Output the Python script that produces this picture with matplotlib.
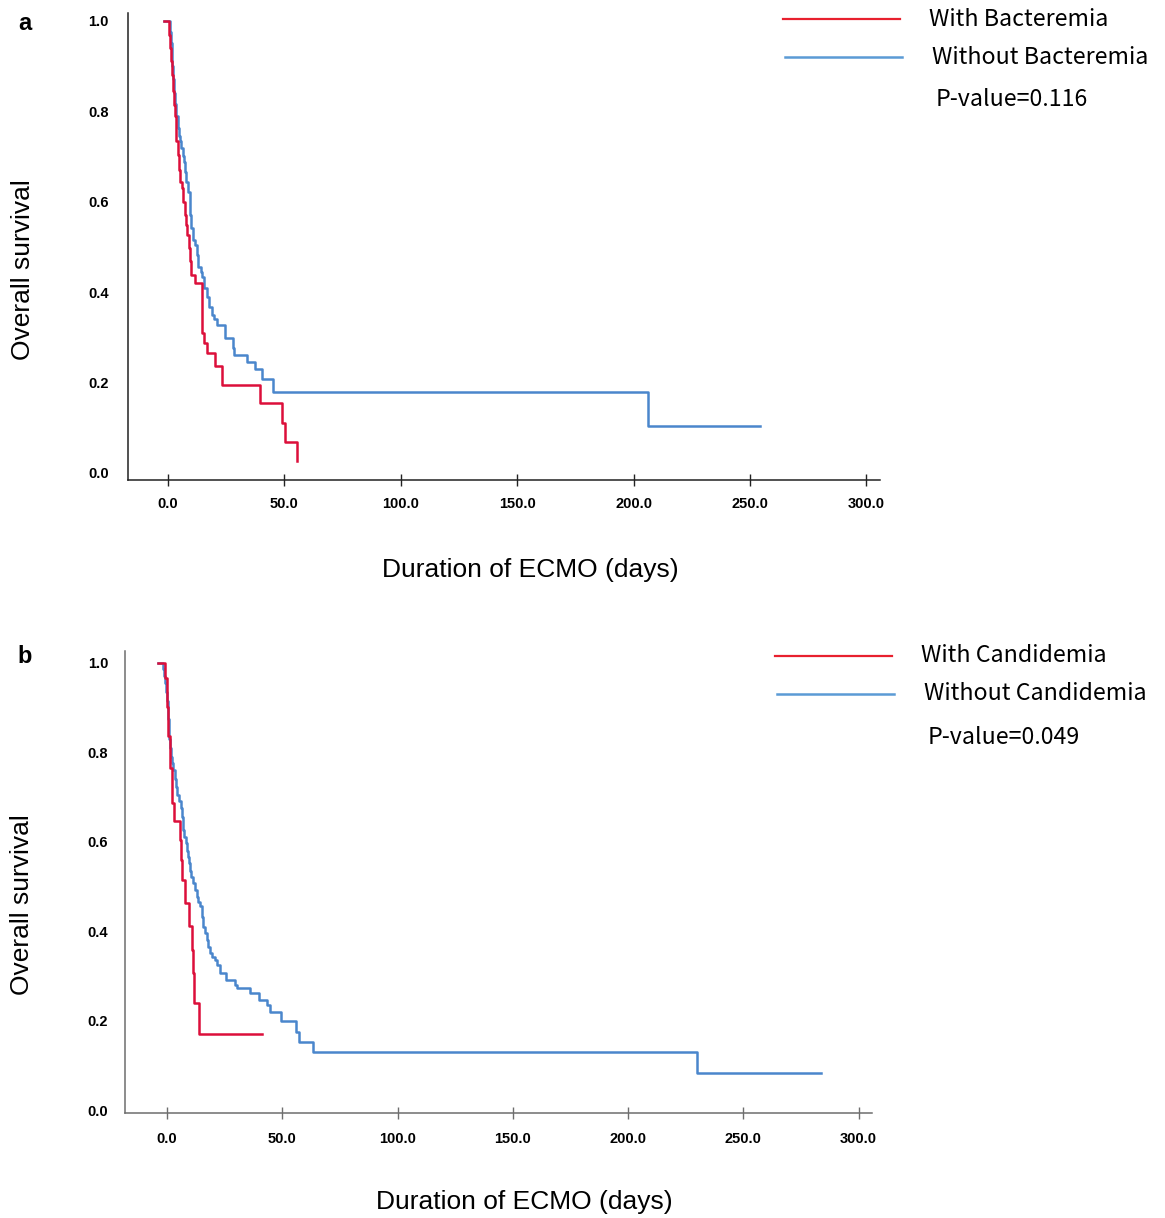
import matplotlib
matplotlib.use("Agg")
import matplotlib.pyplot as plt

# Kaplan-Meier curves: (time, survival after the step)
bact_time = [-1.5, 0.6, 1.2, 1.6, 2.0, 2.4, 2.8, 3.1, 3.5, 3.8, 4.5, 5.0, 5.5, 6.2, 6.8,
             7.4, 8.0, 8.5, 9.2, 9.7, 10.2, 11.7, 14.9, 15.6, 16.8, 20.4, 23.3, 39.7,
             49.3, 50.4, 55.5]
bact_surv = [1.0, 0.968, 0.939, 0.910, 0.880, 0.845, 0.814, 0.790, 0.769, 0.735, 0.703,
             0.670, 0.644, 0.629, 0.600, 0.570, 0.548, 0.526, 0.497, 0.468, 0.438, 0.419,
             0.309, 0.287, 0.266, 0.237, 0.195, 0.154, 0.110, 0.068, 0.027]

nobact_time = [-1.5, 0.9, 1.3, 1.7, 2.1, 2.5, 2.9, 3.3, 3.8, 4.3, 4.8, 5.4, 5.9, 6.7, 7.1,
               7.6, 8.1, 8.8, 9.4, 9.8, 10.2, 11.0, 11.9, 12.5, 13.2, 14.2, 14.7, 15.7,
               16.8, 17.9, 19.0, 20.0, 21.1, 24.7, 28.0, 28.7, 34.0, 37.6, 40.4, 45.4,
               206.0, 254.5]
nobact_surv = [1.0, 0.975, 0.950, 0.925, 0.900, 0.870, 0.840, 0.815, 0.790, 0.762, 0.745,
               0.733, 0.718, 0.700, 0.688, 0.665, 0.644, 0.622, 0.600, 0.570, 0.541, 0.515,
               0.504, 0.482, 0.456, 0.445, 0.434, 0.408, 0.390, 0.368, 0.349, 0.340, 0.327,
               0.298, 0.276, 0.261, 0.246, 0.229, 0.207, 0.180, 0.104, 0.104]

cand_time = [-3.7, -0.8, -0.1, 0.6, 1.3, 2.3, 3.2, 5.7, 6.1, 6.4, 7.8, 9.7, 10.7, 11.2,
             11.8, 14.0, 41.4]
cand_surv = [1.0, 0.965, 0.900, 0.835, 0.764, 0.686, 0.646, 0.604, 0.559, 0.514, 0.463,
             0.411, 0.358, 0.306, 0.239, 0.171, 0.171]

nocand_time = [-3.7, -1.6, -1.2, -0.8, -0.4, 0.0, 0.3, 0.6, 0.9, 1.1, 1.3, 1.7, 2.1, 2.8,
               3.3, 3.9, 4.5, 5.4, 5.9, 6.4, 6.8, 7.1, 7.6, 8.1, 8.6, 9.2, 9.6, 10.0,
               10.6, 11.2, 12.0, 12.9, 13.6, 14.4, 15.1, 15.8, 16.5, 17.3, 18.0, 18.7,
               19.4, 20.9, 21.6, 23.0, 25.6, 29.5, 30.5, 36.0, 40.1, 43.5, 44.7, 49.5,
               55.9, 57.3, 63.2, 230.0, 283.6]
nocand_surv = [1.0, 0.985, 0.970, 0.955, 0.935, 0.915, 0.895, 0.875, 0.850, 0.830, 0.810,
               0.790, 0.775, 0.760, 0.740, 0.723, 0.705, 0.690, 0.675, 0.655, 0.640, 0.626,
               0.610, 0.596, 0.580, 0.566, 0.552, 0.535, 0.520, 0.507, 0.492, 0.477, 0.466,
               0.455, 0.432, 0.410, 0.395, 0.380, 0.365, 0.350, 0.342, 0.335, 0.324, 0.306,
               0.291, 0.280, 0.272, 0.262, 0.247, 0.235, 0.218, 0.199, 0.175, 0.153, 0.129,
               0.083, 0.083]

x_ticks = [0, 50, 100, 150, 200, 250, 300]
y_ticks = [0.0, 0.2, 0.4, 0.6, 0.8, 1.0]

red = "#dc0f3a"
blue = "#4a86cc"
tick_font = ["Liberation Sans Narrow", "Liberation Sans", "DejaVu Sans"]
leg_font = ["Noto Sans CJK KR", "Noto Sans", "DejaVu Sans"]

W, H = 1165, 1218
fig = plt.figure(figsize=(W / 100, H / 100), dpi=100)


def px_axes(l, t, r, b):
    return fig.add_axes([l / W, 1 - b / H, (r - l) / W, (b - t) / H])


def style(ax, xlim, ylim, spine_col, ypad, xpad):
    ax.set_xlim(*xlim)
    ax.set_ylim(*ylim)
    for s in ["top", "right"]:
        ax.spines[s].set_visible(False)
    for s in ["left", "bottom"]:
        ax.spines[s].set_color(spine_col)
        ax.spines[s].set_linewidth(1.1)
    ax.set_xticks(x_ticks)
    ax.set_xticklabels(["%.1f" % v for v in x_ticks])
    ax.set_yticks(y_ticks)
    ax.set_yticklabels(["%.1f" % v for v in y_ticks])
    ax.tick_params(axis="y", length=0, pad=ypad)
    ax.tick_params(axis="x", direction="inout", length=9, width=1.0,
                   color=spine_col, pad=xpad)
    for lbl in ax.get_xticklabels() + ax.get_yticklabels():
        lbl.set_family(tick_font)
        lbl.set_fontweight("bold")
        lbl.set_fontsize(10.5)


def legend(y1, y2, y3, x0, labels, pval):
    fig.add_artist(plt.Line2D([x0 / W, (x0 + 117) / W], [1 - y1 / H, 1 - y1 / H],
                              color="#e8202e", lw=1.6))
    fig.add_artist(plt.Line2D([(x0 + 2) / W, (x0 + 119) / W], [1 - y2 / H, 1 - y2 / H],
                              color="#5b9bd5", lw=1.8))
    fig.text((x0 + 146) / W, 1 - y1 / H, labels[0], family=leg_font, fontsize=16.7,
             va="center", ha="left")
    fig.text((x0 + 149) / W, 1 - y2 / H, labels[1], family=leg_font, fontsize=16.7,
             va="center", ha="left")
    fig.text((x0 + 153) / W, 1 - y3 / H, pval, family=leg_font, fontsize=16.7,
             va="center", ha="left")


# panel a
ax1 = px_axes(128, 13, 880, 480)
ax1.step(nobact_time, nobact_surv, where="post", color=blue, lw=1.8)
ax1.step(bact_time, bact_surv, where="post", color=red, lw=1.8)
style(ax1, (-17.0, 305.8), (-0.0155, 1.017), "#222222", 14, 8)

# panel b
ax2 = px_axes(125, 651, 872, 1113)
ax2.step(nocand_time, nocand_surv, where="post", color=blue, lw=1.8)
ax2.step(cand_time, cand_surv, where="post", color=red, lw=1.8)
style(ax2, (-18.2, 305.8), (-0.0067, 1.026), "#6e6e6e", 12, 9)

legend(19, 57, 100, 783, ["With Bacteremia", "Without Bacteremia"], "P-value=0.116")
legend(656, 694, 737, 775, ["With Candidemia", "Without Candidemia"], "P-value=0.049")

lab_font = ["Liberation Sans", "DejaVu Sans"]
fig.text(23 / W, 1 - 270 / H, "Overall survival", rotation=90, family=lab_font,
         fontsize=19, ha="center", va="center")
fig.text(22 / W, 1 - 905 / H, "Overall survival", rotation=90, family=lab_font,
         fontsize=19, ha="center", va="center")
fig.text(530 / W, 1 - 570 / H, "Duration of ECMO (days)", family=lab_font,
         fontsize=19, ha="center", va="center")
fig.text(524 / W, 1 - 1202 / H, "Duration of ECMO (days)", family=lab_font,
         fontsize=19, ha="center", va="center")

fig.text(25 / W, 1 - 24 / H, "a", family=lab_font, fontsize=17, fontweight="bold",
         ha="center", va="center")
fig.text(25 / W, 1 - 657 / H, "b", family=lab_font, fontsize=17, fontweight="bold",
         ha="center", va="center")

fig.savefig("out.png", dpi=100)
